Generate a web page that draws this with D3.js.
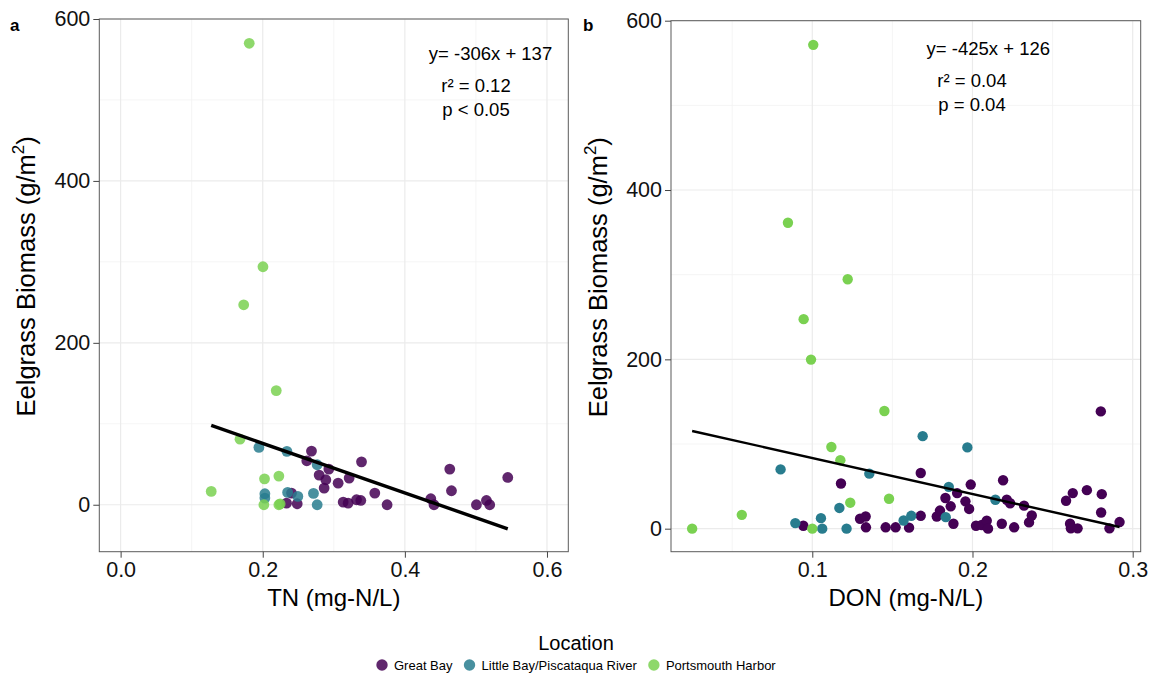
<!DOCTYPE html>
<html>
<head>
<meta charset="utf-8">
<script src="https://cdn.jsdelivr.net/npm/d3@7"></script>
<style>
  body { margin: 0; background: #fff; }
  text { font-family: "Liberation Sans", Arial, Helvetica, sans-serif; }
</style>
</head>
<body>
<svg id="chart" width="1155" height="677"></svg>
<script>
// ---- data --------------------------------------------------------------
const locations = ["Great Bay", "Little Bay/Piscataqua River", "Portsmouth Harbor"];
const locationColors = ["#440154", "#287C8E", "#7AD151"];

// Panel a: total nitrogen (mg-N/L) vs eelgrass biomass (g/m2)
const tnGreatBay = [
  [0.2686, 66.3], [0.262, 54.3], [0.293, 44], [0.2794, 36.6], [0.2888, 30.9],
  [0.2864, 20.6], [0.3061, 26.7], [0.3216, 32.9], [0.339, 53], [0.2405, 14.4],
  [0.2335, 2], [0.2485, 1.2], [0.3132, 3.3], [0.3202, 2], [0.332, 6.2],
  [0.338, 5.3], [0.3577, 14.4], [0.375, 0], [0.4365, 7.4], [0.441, 0],
  [0.4632, 44], [0.4656, 17.3], [0.5007, 0], [0.5148, 5.3], [0.5194, 0],
  [0.5448, 33.7]
];
const tnLittleBay = [
  [0.1946, 70.8], [0.234, 66], [0.2766, 49.4], [0.203, 13.6], [0.203, 8.2],
  [0.235, 15.2], [0.2494, 10.3], [0.2714, 14], [0.2766, 0]
];
const tnPortsmouth = [
  [0.181, 570], [0.2003, 294], [0.1732, 247], [0.219, 141], [0.168, 81],
  [0.1275, 16.5], [0.2025, 32], [0.2227, 35.4], [0.2016, 0], [0.2227, 0],
  [0.2245, 1]
];
const tnFit = { slope: -306, intercept: 137, r2: "0.12", p: "p < 0.05" };

// Panel b: dissolved organic nitrogen (mg-N/L) vs eelgrass biomass (g/m2)
const donGreatBay = [
  [0.0944, 3.5], [0.1179, 53.3], [0.1298, 11.7], [0.1333, 14.4], [0.1335, 1.6],
  [0.1458, 1.6], [0.152, 1.6], [0.1604, 1.2], [0.1677, 65.7], [0.1677, 15.2],
  [0.1777, 14.4], [0.1797, 21.4], [0.1831, 36.2], [0.1864, 26.4], [0.1881, 5.8],
  [0.1904, 42], [0.1956, 32.3], [0.1979, 23.3], [0.1989, 52.1], [0.2022, 3.5],
  [0.2058, 4.3], [0.2089, 9.3], [0.2097, 0], [0.2183, 5.8], [0.2191, 57.2],
  [0.2214, 34.2], [0.2235, 30], [0.226, 1.6], [0.2322, 27.2], [0.2353, 7.4],
  [0.237, 15.6], [0.2584, 33], [0.2609, 5.8], [0.2614, 0.4], [0.2626, 42],
  [0.2656, 0.4], [0.2714, 45.5], [0.2801, 138.5], [0.2807, 40.8], [0.2803, 19.1],
  [0.2855, 0.4], [0.2918, 7.8]
];
const donLittleBay = [
  [0.0802, 70], [0.0894, 6.6], [0.1054, 12.4], [0.1062, 0], [0.1169, 24.5],
  [0.1214, 0], [0.1356, 65], [0.157, 9.7], [0.1618, 15.2], [0.1689, 109.3],
  [0.1833, 13.6], [0.1852, 49.4], [0.1968, 96], [0.2143, 34.2]
];
const donPortsmouth = [
  [0.1006, 571.5], [0.0848, 361.3], [0.1221, 294.6], [0.0946, 247.5], [0.0992, 199.7],
  [0.025, 0], [0.056, 16.3], [0.1, 0], [0.1119, 96.5], [0.1175, 80.9],
  [0.1237, 30.7], [0.145, 139], [0.1479, 35.4]
];
const donFit = { slope: -425, intercept: 126, r2: "0.04", p: "p = 0.04" };

const biomassTicks = [0, 200, 400, 600];
const biomassMinor = [100, 300, 500];
const tnTicks = [0, 0.2, 0.4, 0.6];
const tnMinor = [0.1, 0.3, 0.5];
const donTicks = [0.1, 0.2, 0.3];
const donMinor = [0.05, 0.15, 0.25];

// ---- drawing -----------------------------------------------------------
const svg = d3.select("#chart");
svg.append("rect").attr("width", 1155).attr("height", 677).attr("fill", "#fff");

function drawPanel(cfg) {
  const g = svg.append("g");
  const x = d3.scaleLinear().domain(cfg.xDomain).range([cfg.left, cfg.right]);
  const y = d3.scaleLinear().domain(cfg.yDomain).range([cfg.bottom, cfg.top]);

  // grid: minor first, then major
  const grid = g.append("g");
  grid.selectAll(".vminor").data(cfg.xMinor).enter().append("line")
    .attr("x1", d => x(d)).attr("x2", d => x(d))
    .attr("y1", cfg.top).attr("y2", cfg.bottom)
    .attr("stroke", "#f3f3f3").attr("stroke-width", 0.8);
  grid.selectAll(".hminor").data(cfg.yMinor).enter().append("line")
    .attr("y1", d => y(d)).attr("y2", d => y(d))
    .attr("x1", cfg.left).attr("x2", cfg.right)
    .attr("stroke", "#f3f3f3").attr("stroke-width", 0.8);
  grid.selectAll(".vmajor").data(cfg.xTicks).enter().append("line")
    .attr("x1", d => x(d)).attr("x2", d => x(d))
    .attr("y1", cfg.top).attr("y2", cfg.bottom)
    .attr("stroke", "#ebebeb").attr("stroke-width", 1.2);
  grid.selectAll(".hmajor").data(cfg.yTicks).enter().append("line")
    .attr("y1", d => y(d)).attr("y2", d => y(d))
    .attr("x1", cfg.left).attr("x2", cfg.right)
    .attr("stroke", "#ebebeb").attr("stroke-width", 1.2);

  // points, one layer per location
  cfg.series.forEach((pts, i) => {
    g.append("g").selectAll("circle").data(pts).enter().append("circle")
      .attr("cx", d => x(d[0])).attr("cy", d => y(d[1]))
      .attr("r", cfg.radius)
      .attr("fill", locationColors[i])
      .attr("fill-opacity", cfg.opacity);
  });

  // regression line over the observed x range
  const allX = cfg.series.flat().map(d => d[0]);
  const xr = d3.extent(allX);
  const fitLine = xr.map(v => [v, cfg.fit.slope * v + cfg.fit.intercept]);
  g.append("path")
    .datum(fitLine)
    .attr("d", d3.line().x(d => x(d[0])).y(d => y(d[1])))
    .attr("stroke", "#000").attr("stroke-width", cfg.lineWidth)
    .attr("fill", "none");

  // panel border
  g.append("rect")
    .attr("x", cfg.left).attr("y", cfg.top)
    .attr("width", cfg.right - cfg.left).attr("height", cfg.bottom - cfg.top)
    .attr("fill", "none").attr("stroke", "#5a5a5a").attr("stroke-width", 1);

  // axes
  const xAxis = g.append("g").attr("transform", `translate(0,${cfg.bottom})`)
    .call(d3.axisBottom(x).tickValues(cfg.xTicks).tickFormat(d3.format(".1f"))
      .tickSize(6).tickPadding(4));
  const yAxis = g.append("g").attr("transform", `translate(${cfg.left},0)`)
    .call(d3.axisLeft(y).tickValues(cfg.yTicks).tickFormat(d3.format("d"))
      .tickSize(6).tickPadding(3));
  [xAxis, yAxis].forEach(ax => {
    ax.select(".domain").remove();
    ax.selectAll(".tick line").attr("stroke", "#444").attr("stroke-width", 1);
    ax.selectAll(".tick text").attr("fill", "#111").attr("font-size", 21.5)
      .style("font-family", '"Liberation Sans", Arial, sans-serif');
  });

  // axis titles
  g.append("text")
    .attr("x", (cfg.left + cfg.right) / 2).attr("y", 606)
    .attr("text-anchor", "middle").attr("font-size", 24).attr("fill", "#000")
    .text(cfg.xTitle);
  const yt = g.append("text")
    .attr("transform", `translate(${cfg.left - 64},${(cfg.top + cfg.bottom) / 2 - 9}) rotate(-90)`)
    .attr("text-anchor", "middle").attr("font-size", 25.5).attr("fill", "#000");
  yt.append("tspan").text("Eelgrass Biomass (g/m");
  yt.append("tspan").attr("font-size", 17).attr("dy", -11).text("2");
  yt.append("tspan").attr("dy", 11).text(")");

  // panel tag
  g.append("text").attr("x", cfg.tagX).attr("y", 30.5)
    .attr("font-size", 17).attr("font-weight", "bold").attr("fill", "#000")
    .text(cfg.tag);

  // fit annotation
  const eq = `y= ${cfg.fit.slope}x + ${cfg.fit.intercept}`;
  const ann = [
    [eq, cfg.eqPos[0], cfg.eqPos[1]],
    [`r\u00B2 = ${cfg.fit.r2}`, cfg.statX, cfg.eqPos[1] + 32],
    [cfg.fit.p, cfg.statX, cfg.eqPos[1] + 56]
  ];
  g.selectAll(".ann").data(ann).enter().append("text")
    .attr("x", d => d[1]).attr("y", d => d[2])
    .attr("text-anchor", "middle").attr("font-size", 18.5).attr("fill", "#000")
    .text(d => d[0]);
}

drawPanel({
  left: 99.3, right: 568.3, top: 19, bottom: 551.7,
  xDomain: [-0.03, 0.63], yDomain: [-58, 600],
  xTicks: tnTicks, xMinor: tnMinor, yTicks: biomassTicks, yMinor: biomassMinor,
  series: [tnGreatBay, tnLittleBay, tnPortsmouth],
  fit: tnFit, radius: 5.4, opacity: 0.85, lineWidth: 3.4,
  xTitle: "TN (mg-N/L)", tag: "a", tagX: 10,
  eqPos: [490.5, 59.5], statX: 476
});

drawPanel({
  left: 671, right: 1140.7, top: 20.7, bottom: 551.7,
  xDomain: [0.0118, 0.305], yDomain: [-27.2, 600],
  xTicks: donTicks, xMinor: donMinor, yTicks: biomassTicks, yMinor: biomassMinor,
  series: [donGreatBay, donLittleBay, donPortsmouth],
  fit: donFit, radius: 5.2, opacity: 1, lineWidth: 2.4,
  xTitle: "DON (mg-N/L)", tag: "b", tagX: 583,
  eqPos: [988.3, 55], statX: 972
});

// legend
const legend = svg.append("g");
legend.append("text").attr("x", 576).attr("y", 650)
  .attr("text-anchor", "middle").attr("font-size", 20).attr("fill", "#000")
  .text("Location");
const items = legend.selectAll(".item").data(locations).enter().append("g");
items.append("circle").attr("r", 5.7)
  .attr("fill", (d, i) => locationColors[i]).attr("fill-opacity", 0.85);
items.append("text").attr("x", 12).attr("y", 4.6)
  .attr("font-size", 13).attr("fill", "#000").text(d => d);
const widths = [];
items.each(function () { widths.push(12 + this.querySelector("text").getComputedTextLength()); });
const gap = 17;
const total = d3.sum(widths) + gap * (widths.length - 1) + 5.7;
let cursor = 576 - total / 2 + 5.7;
items.attr("transform", (d, i) => {
  const t = `translate(${cursor},665)`;
  cursor += widths[i] + gap;
  return t;
});
</script>
</body>
</html>
